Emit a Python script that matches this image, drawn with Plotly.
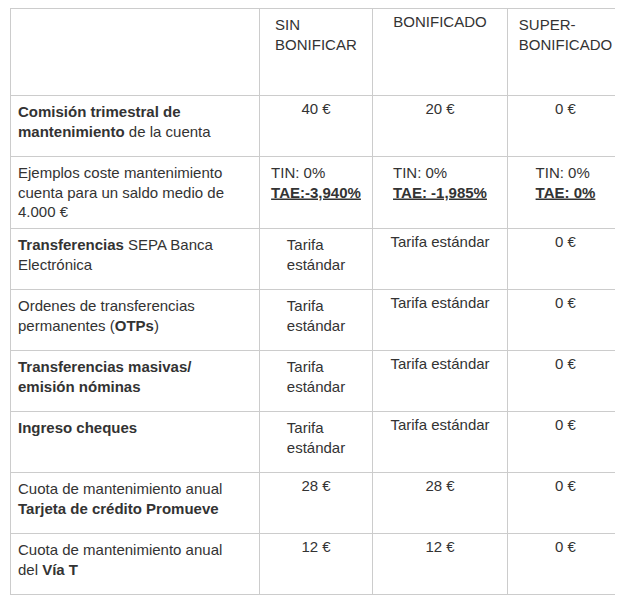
import plotly.graph_objects as go

headers = ["", "SIN<br>BONIFICAR", "BONIFICADO", "SUPER-<br>BONIFICADO"]
concepts = [
    "<b>Comisión trimestral de<br>mantenimiento</b> de la cuenta",
    "Ejemplos coste mantenimiento<br>cuenta para un saldo medio de<br>4.000 €",
    "<b>Transferencias</b> SEPA Banca<br>Electrónica",
    "Ordenes de transferencias<br>permanentes (<b>OTPs</b>)",
    "<b>Transferencias masivas/<br>emisión nóminas</b>",
    "<b>Ingreso cheques</b>",
    "Cuota de mantenimiento anual<br><b>Tarjeta de crédito Promueve</b>",
    "Cuota de mantenimiento anual<br>del <b>Vía T</b>",
]
U = '<span style="text-decoration:underline"><b>%s</b></span>'
sin_bonificar = ["40 €", "TIN: 0%<br>" + U % "TAE:-3,940%", "Tarifa<br>estándar", "Tarifa<br>estándar",
                 "Tarifa<br>estándar", "Tarifa<br>estándar", "28 €", "12 €"]
bonificado = ["20 €", "TIN: 0%<br>" + U % "TAE: -1,985%", "Tarifa estándar", "Tarifa estándar",
              "Tarifa estándar", "Tarifa estándar", "28 €", "12 €"]
super_bonificado = ["0 €", "TIN: 0%<br>" + U % "TAE: 0%", "0 €", "0 €", "0 €", "0 €", "0 €", "0 €"]

font = dict(family="Liberation Sans, Arial", size=15, color="#333333")
fig = go.Figure(go.Table(
    columnwidth=[252, 113, 137, 116],
    header=dict(values=headers, align=["left", "center", "center", "center"], height=87,
                fill_color="white", line_color="#cccccc", font=font),
    cells=dict(values=[concepts, sin_bonificar, bonificado, super_bonificado],
               align=["left", "center", "center", "center"], height=61,
               fill_color="white", line_color="#cccccc", font=font),
))
fig.update_layout(width=623, height=614, margin=dict(l=2, r=8, t=0, b=0),
                  paper_bgcolor="white")
fig.write_html("out.html")
